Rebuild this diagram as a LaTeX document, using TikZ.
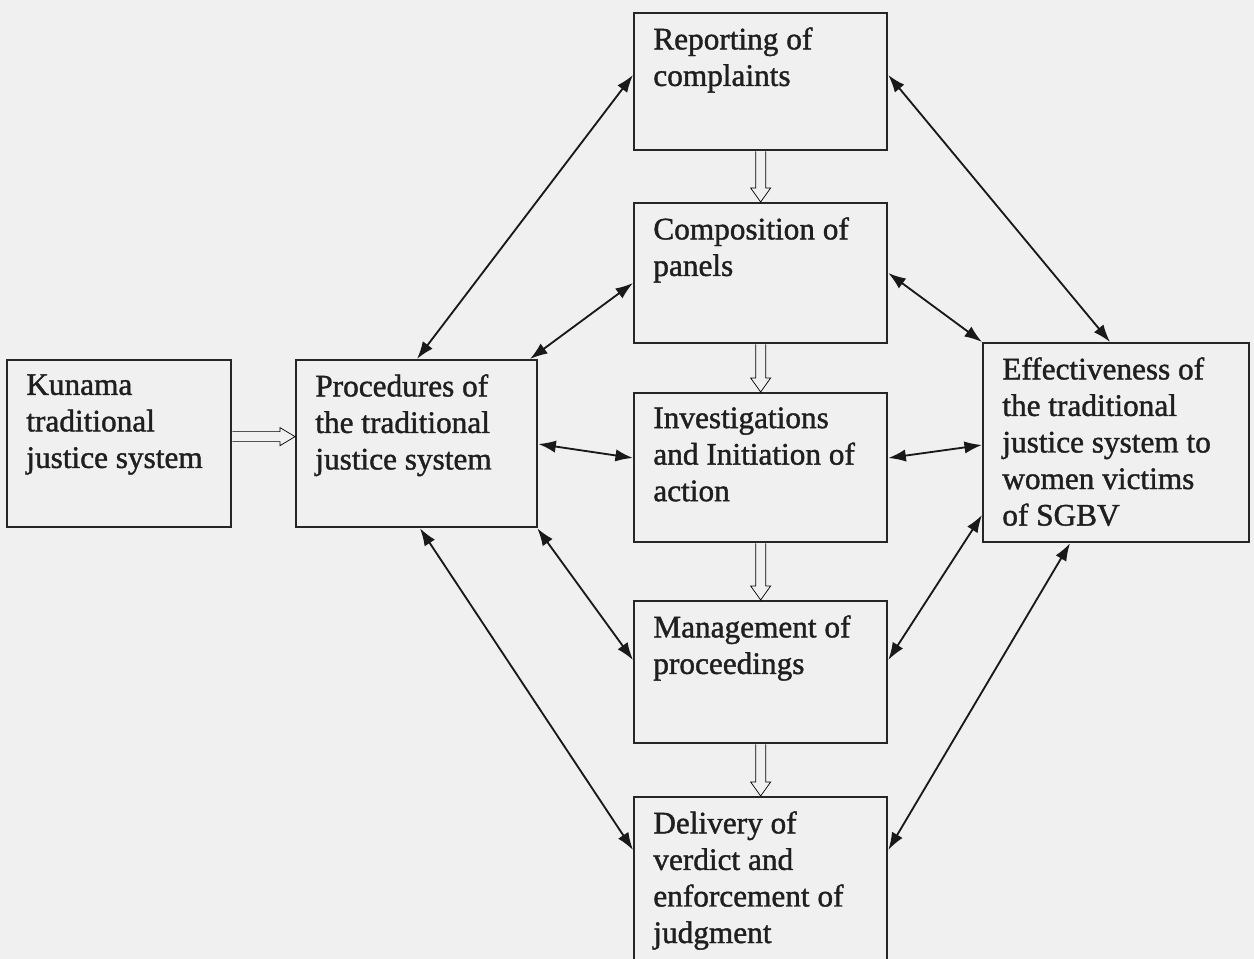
\documentclass[tikz,border=0pt]{standalone}
\usepackage{fontspec}
\setmainfont{Liberation Serif}[RawFeature={embolden=1.3}]
\usetikzlibrary{arrows.meta,calc}
\begin{document}
\begin{tikzpicture}[x=0.02cm,y=-0.02cm,
  box/.style={draw=black!85, line width=1.3pt, inner sep=0pt, anchor=north west},
  lbl/.style={anchor=north west, align=left, inner sep=0pt, font=\fontsize{17.8}{20.8}\selectfont, text=black!88},
  dbl/.style={{Latex[length=10pt,width=7pt]}-{Latex[length=10pt,width=7pt]}, line width=1.05pt, draw=black!90},
  hollowdown/.style={line width=1pt, draw=black!85, to path={($(\tikztostart)+(-5,0)$) -- ($(\tikztotarget)+(-5,-14)$) -- ($(\tikztotarget)+(-10,-14)$) -- (\tikztotarget) -- ($(\tikztotarget)+(10,-14)$) -- ($(\tikztotarget)+(5,-14)$) -- ($(\tikztostart)+(5,0)$)}},
  hollowright/.style={line width=1pt, draw=black!85, to path={($(\tikztostart)+(0,-5)$) -- ($(\tikztotarget)+(-15,-5)$) -- ($(\tikztotarget)+(-15,-9)$) -- (\tikztotarget) -- ($(\tikztotarget)+(-15,9)$) -- ($(\tikztotarget)+(-15,5)$) -- ($(\tikztostart)+(0,5)$)}}
]
\fill[black!6] (0,0) rectangle (1254,959);
\useasboundingbox (0,0) rectangle (1254,959);
\clip (0,0) rectangle (1254,959);

% boxes
\node[box, minimum width=224*0.02cm, minimum height=167*0.02cm] (kun) at (6,359) {};
\node[box, minimum width=241*0.02cm, minimum height=167*0.02cm] (proc) at (295,359) {};
\node[box, minimum width=253*0.02cm, minimum height=137*0.02cm] (rep) at (633,12) {};
\node[box, minimum width=253*0.02cm, minimum height=140*0.02cm] (comp) at (633,202) {};
\node[box, minimum width=253*0.02cm, minimum height=149*0.02cm] (inv) at (633,392) {};
\node[box, minimum width=253*0.02cm, minimum height=142*0.02cm] (mgmt) at (633,600) {};
\node[box, minimum width=253*0.02cm, minimum height=200*0.02cm] (del) at (633,796) {};
\node[box, minimum width=266*0.02cm, minimum height=199*0.02cm] (eff) at (982,342) {};

% labels
\node[lbl] (kunT) at ($(kun.north west)+(20,15)$) {Kunama\\traditional\\justice system};
\node[lbl] (procT) at ($(proc.north west)+(20,15)$) {Procedures of\\the traditional\\justice system};
\node[lbl] (repT) at ($(rep.north west)+(20,15)$) {Reporting of\\complaints};
\node[lbl] (compT) at ($(comp.north west)+(20,15)$) {Composition of\\panels};
\node[lbl] (invT) at ($(inv.north west)+(20,15)$) {Investigations\\and Initiation of\\action};
\node[lbl] (mgmtT) at ($(mgmt.north west)+(20,15)$) {Management of\\proceedings};
\node[lbl] (delT) at ($(del.north west)+(20,15)$) {Delivery of\\verdict and\\enforcement of\\judgment};
\node[lbl] (effT) at ($(eff.north west)+(20,15)$) {Effectiveness of\\the traditional\\justice system to\\women victims\\of SGBV};

% hollow arrows
\draw ($(kun.east)+(0,-7)$) to[hollowright] ($(proc.west)+(0,-7)$);
\draw (rep.south) to[hollowdown] (comp.north);
\draw (comp.south) to[hollowdown] (inv.north);
\draw (inv.south) to[hollowdown] (mgmt.north);
\draw (mgmt.south) to[hollowdown] (del.north);

% double-headed arrows
\draw[dbl] ($(proc.north west)+(122,0)$) -- ($(rep.north west)+(0,63)$);
\draw[dbl] ($(proc.north west)+(235,0)$) -- ($(comp.north west)+(0,81)$);
\draw[dbl] ($(proc.north east)+(0,85)$) -- ($(inv.north west)+(0,66)$);
\draw[dbl] ($(proc.south east)+(-1,0)$) -- ($(mgmt.north west)+(0,60)$);
\draw[dbl] ($(proc.south west)+(125,0)$) -- ($(del.north west)+(0,54)$);
\draw[dbl] ($(rep.north east)+(0,63)$) -- ($(eff.north west)+(128,0)$);
\draw[dbl] ($(comp.north east)+(0,71)$) -- (eff.north west);
\draw[dbl] ($(inv.north east)+(0,66)$) -- ($(eff.north west)+(0,103)$);
\draw[dbl] ($(mgmt.north east)+(0,60)$) -- ($(eff.north west)+(0,173)$);
\draw[dbl] ($(del.north east)+(0,54)$) -- ($(eff.south west)+(88,0)$);
\end{tikzpicture}
\end{document}
